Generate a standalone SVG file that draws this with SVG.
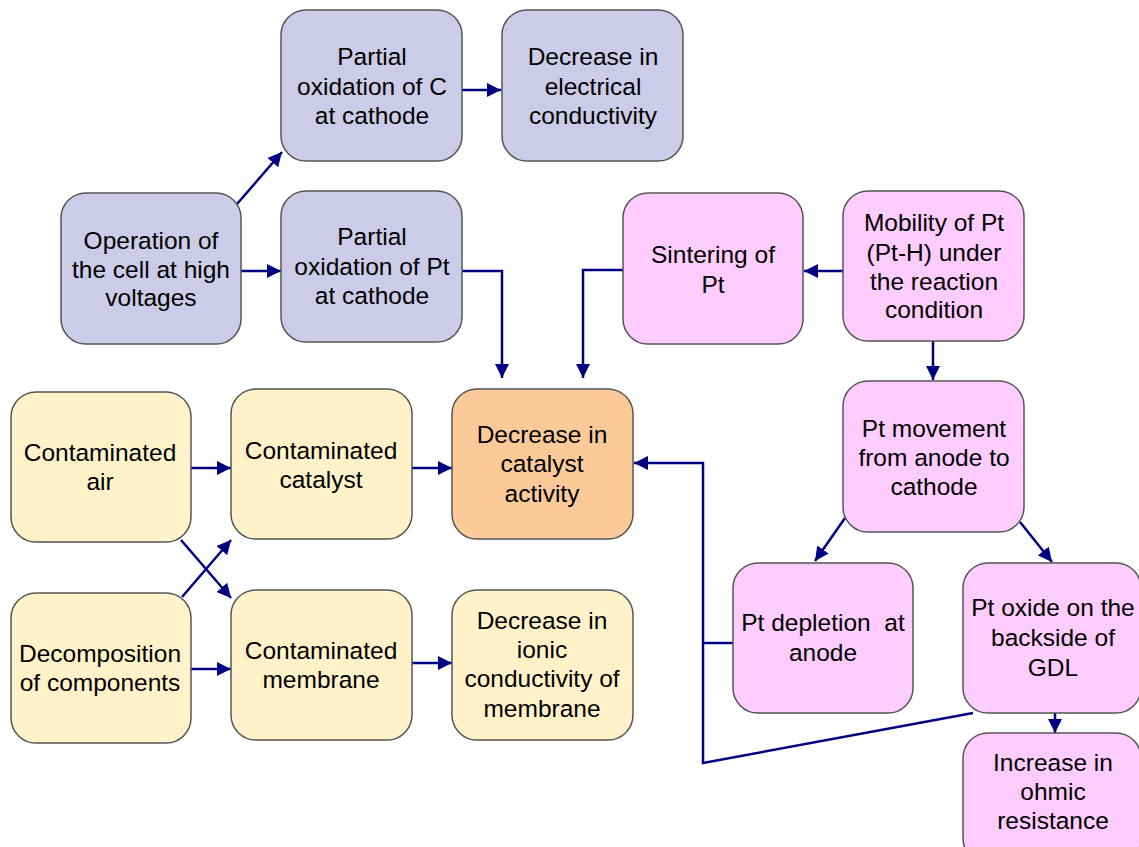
<svg xmlns="http://www.w3.org/2000/svg" width="1139" height="847" viewBox="0 0 1139 847">
<defs>
<style>
.n rect{stroke:#555;stroke-width:1.5}
.lav rect{fill:#cccce8}
.pink rect{fill:#ffccff}
.cream rect{fill:#fff2c9}
.orange rect{fill:#fcca98}
text{font-family:"Liberation Sans",Arial,sans-serif;font-size:24.5px;fill:#000;text-anchor:middle}
.c path{fill:none;stroke:#000080;stroke-width:2.5}
</style>
<marker id="a" markerUnits="userSpaceOnUse" markerWidth="14" markerHeight="14" viewBox="0 0 12 12" refX="12" refY="6" orient="auto">
<path d="M0,0 L12,6 L0,12 Z" fill="#000080"/>
</marker>
</defs>
<rect width="1139" height="847" fill="#fff"/>
<g class="c">
<path d="M462,90 L501,90" marker-end="url(#a)"/>
<path d="M237,204 L282,152" marker-end="url(#a)"/>
<path d="M241,271 L281,271" marker-end="url(#a)"/>
<path d="M462,271 L502,271 L502,378" marker-end="url(#a)"/>
<path d="M623,270 L583,270 L583,378" marker-end="url(#a)"/>
<path d="M843,271 L804,271" marker-end="url(#a)"/>
<path d="M933,341 L933,380" marker-end="url(#a)"/>
<path d="M845,518 L815,561" marker-end="url(#a)"/>
<path d="M1020,522 L1052,562" marker-end="url(#a)"/>
<path d="M1055,713 L1055,733" marker-end="url(#a)"/>
<path d="M973,713 L703,763 L703,463 L634,463" marker-end="url(#a)"/>
<path d="M733,643 L703,643"/>
<path d="M191,468 L231,468" marker-end="url(#a)"/>
<path d="M412,468 L452,468" marker-end="url(#a)"/>
<path d="M191,669 L231,669" marker-end="url(#a)"/>
<path d="M412,663 L452,663" marker-end="url(#a)"/>
<path d="M181,540 L231,598" marker-end="url(#a)"/>
<path d="M182,597 L231,540" marker-end="url(#a)"/>
</g>
<g id="n1" class="n lav"><rect x="281" y="10" width="181" height="151" rx="25"/>
<text x="372" y="65">Partial</text><text x="372" y="95">oxidation of C</text><text x="372" y="124">at cathode</text></g>
<g id="n2" class="n lav"><rect x="502" y="10" width="181" height="151" rx="25"/>
<text x="593" y="65">Decrease in</text><text x="593" y="95">electrical</text><text x="593" y="124">conductivity</text></g>
<g id="n3" class="n lav"><rect x="61" y="193" width="180" height="151" rx="25"/>
<text x="151" y="249">Operation of</text><text x="151" y="278">the cell at high</text><text x="151" y="306">voltages</text></g>
<g id="n4" class="n lav"><rect x="281" y="191" width="181" height="151" rx="25"/>
<text x="372" y="245">Partial</text><text x="372" y="275">oxidation of Pt</text><text x="372" y="304">at cathode</text></g>
<g id="n5" class="n pink"><rect x="623" y="193" width="180" height="151" rx="25"/>
<text x="713" y="263">Sintering of</text><text x="713" y="293">Pt</text></g>
<g id="n6" class="n pink"><rect x="843" y="191" width="181" height="150" rx="25"/>
<text x="934" y="231">Mobility of Pt</text><text x="934" y="261">(Pt-H) under</text><text x="934" y="290">the reaction</text><text x="934" y="318">condition</text></g>
<g id="n7" class="n pink"><rect x="843" y="381" width="181" height="151" rx="25"/>
<text x="934" y="437">Pt movement</text><text x="934" y="466">from anode to</text><text x="934" y="495">cathode</text></g>
<g id="n8" class="n cream"><rect x="11" y="392" width="180" height="150" rx="25"/>
<text x="100" y="461">Contaminated</text><text x="100" y="490">air</text></g>
<g id="n9" class="n cream"><rect x="231" y="389" width="181" height="150" rx="25"/>
<text x="321" y="459">Contaminated</text><text x="321" y="488">catalyst</text></g>
<g id="n10" class="n orange"><rect x="452" y="389" width="181" height="150" rx="25"/>
<text x="542" y="443">Decrease in</text><text x="542" y="472">catalyst</text><text x="542" y="502">activity</text></g>
<g id="n11" class="n cream"><rect x="11" y="593" width="180" height="150" rx="25"/>
<text x="100" y="662">Decomposition</text><text x="100" y="691">of components</text></g>
<g id="n12" class="n cream"><rect x="231" y="590" width="181" height="150" rx="25"/>
<text x="321" y="659">Contaminated</text><text x="321" y="688">membrane</text></g>
<g id="n13" class="n cream"><rect x="452" y="590" width="181" height="150" rx="25"/>
<text x="542" y="629">Decrease in</text><text x="542" y="658">ionic</text><text x="542" y="687">conductivity of</text><text x="542" y="717">membrane</text></g>
<g id="n14" class="n pink"><rect x="733" y="563" width="180" height="150" rx="25"/>
<text x="823" y="631" xml:space="preserve">Pt depletion  at</text><text x="823" y="661">anode</text></g>
<g id="n15" class="n pink"><rect x="963" y="563" width="178" height="150" rx="25"/>
<text x="1053" y="616">Pt oxide on the</text><text x="1053" y="646">backside of</text><text x="1053" y="676">GDL</text></g>
<g id="n16" class="n pink"><rect x="963" y="733" width="178" height="130" rx="25"/>
<text x="1053" y="771">Increase in</text><text x="1053" y="800">ohmic</text><text x="1053" y="829">resistance</text></g>
</svg>
